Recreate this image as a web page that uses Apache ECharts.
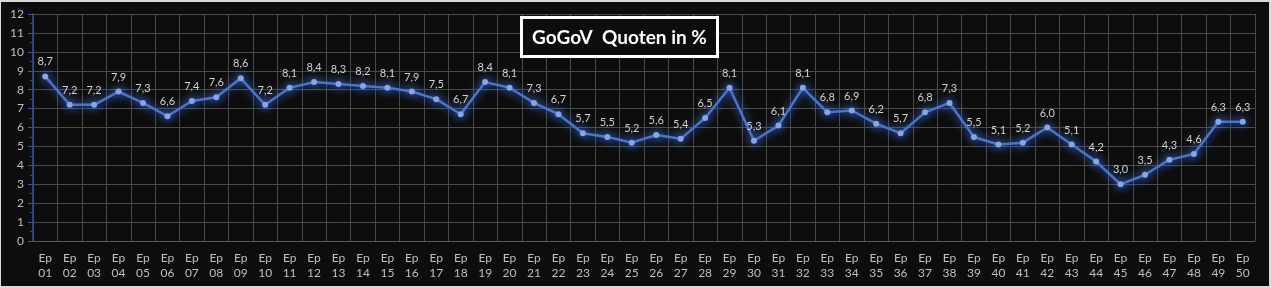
<!DOCTYPE html>
<html><head><meta charset="utf-8">
<script src="https://cdn.jsdelivr.net/npm/echarts@6/dist/echarts.min.js"></script>
<style>html,body{margin:0;padding:0;background:#0d0d0d;}#c{width:1271px;height:288px;box-sizing:border-box;border:2px solid #d9d9d9;border-left-width:1px;}</style>
</head><body><div id="c"></div>
<script>
const title = 'GoGoV  Quoten in %';
const categories = ['Ep\n01','Ep\n02','Ep\n03','Ep\n04','Ep\n05','Ep\n06','Ep\n07','Ep\n08','Ep\n09','Ep\n10',
 'Ep\n11','Ep\n12','Ep\n13','Ep\n14','Ep\n15','Ep\n16','Ep\n17','Ep\n18','Ep\n19','Ep\n20',
 'Ep\n21','Ep\n22','Ep\n23','Ep\n24','Ep\n25','Ep\n26','Ep\n27','Ep\n28','Ep\n29','Ep\n30',
 'Ep\n31','Ep\n32','Ep\n33','Ep\n34','Ep\n35','Ep\n36','Ep\n37','Ep\n38','Ep\n39','Ep\n40',
 'Ep\n41','Ep\n42','Ep\n43','Ep\n44','Ep\n45','Ep\n46','Ep\n47','Ep\n48','Ep\n49','Ep\n50'];
const quoten = [8.7,7.2,7.2,7.9,7.3,6.6,7.4,7.6,8.6,7.2,
 8.1,8.4,8.3,8.2,8.1,7.9,7.5,6.7,8.4,8.1,
 7.3,6.7,5.7,5.5,5.2,5.6,5.4,6.5,8.1,5.3,
 6.1,8.1,6.8,6.9,6.2,5.7,6.8,7.3,5.5,5.1,
 5.2,6.0,5.1,4.2,3.0,3.5,4.3,4.6,6.3,6.3];
const yMin = 0, yMax = 12, yStep = 1;

const chart = echarts.init(document.getElementById('c'));
chart.setOption({
  backgroundColor: '#0d0d0d',
  animation: false,
  title: {
    text: title, left: 520, top: 15,
    backgroundColor: '#0d0d0d', borderColor: '#ffffff', borderWidth: 3,
    padding: [9, 11, 8, 11],
    textStyle: { color: '#ffffff', fontFamily: 'Lato', fontWeight: 'bold', fontSize: 19, lineHeight: 23 }
  },
  grid: { left: 32, right: 14, top: 12, bottom: 45, containLabel: false },
  xAxis: {
    type: 'category', data: categories, boundaryGap: true,
    axisLine: { show: true, lineStyle: { color: '#595959' } },
    axisTick: { show: false },
    splitLine: { show: true, interval: 0, lineStyle: { color: '#4a4a4a', width: 1 } },
    axisLabel: { interval: 0, color: '#bfbfbf', fontFamily: 'Lato', fontSize: 12, lineHeight: 15, margin: 10 }
  },
  yAxis: {
    type: 'value', min: yMin, max: yMax, interval: yStep,
    axisLine: { show: true, lineStyle: { color: '#2f5597', width: 1.5 } },
    axisTick: { show: true, length: 5, lineStyle: { color: '#2f5597' } },
    minorTick: { show: true, splitNumber: 2, length: 3, lineStyle: { color: '#2f5597' } },
    splitLine: { show: true, lineStyle: { color: '#4a4a4a', width: 1 } },
    axisLabel: { color: '#bfbfbf', fontFamily: 'Lato', fontSize: 12, margin: 9 }
  },
  series: [{
    type: 'line', data: quoten,
    symbol: 'circle', symbolSize: 6,
    lineStyle: { color: '#4a74cc', width: 2.5, shadowColor: 'rgba(70,130,255,1)', shadowBlur: 10 },
    itemStyle: { color: '#86a6e8', shadowColor: 'rgba(70,130,255,1)', shadowBlur: 10 },
    label: {
      show: true, position: 'top', distance: 6,
      color: '#d0d0d0', fontFamily: 'Lato', fontSize: 11,
      formatter: p => p.value.toFixed(1).replace('.', ',')
    }
  }]
});
</script></body></html>
